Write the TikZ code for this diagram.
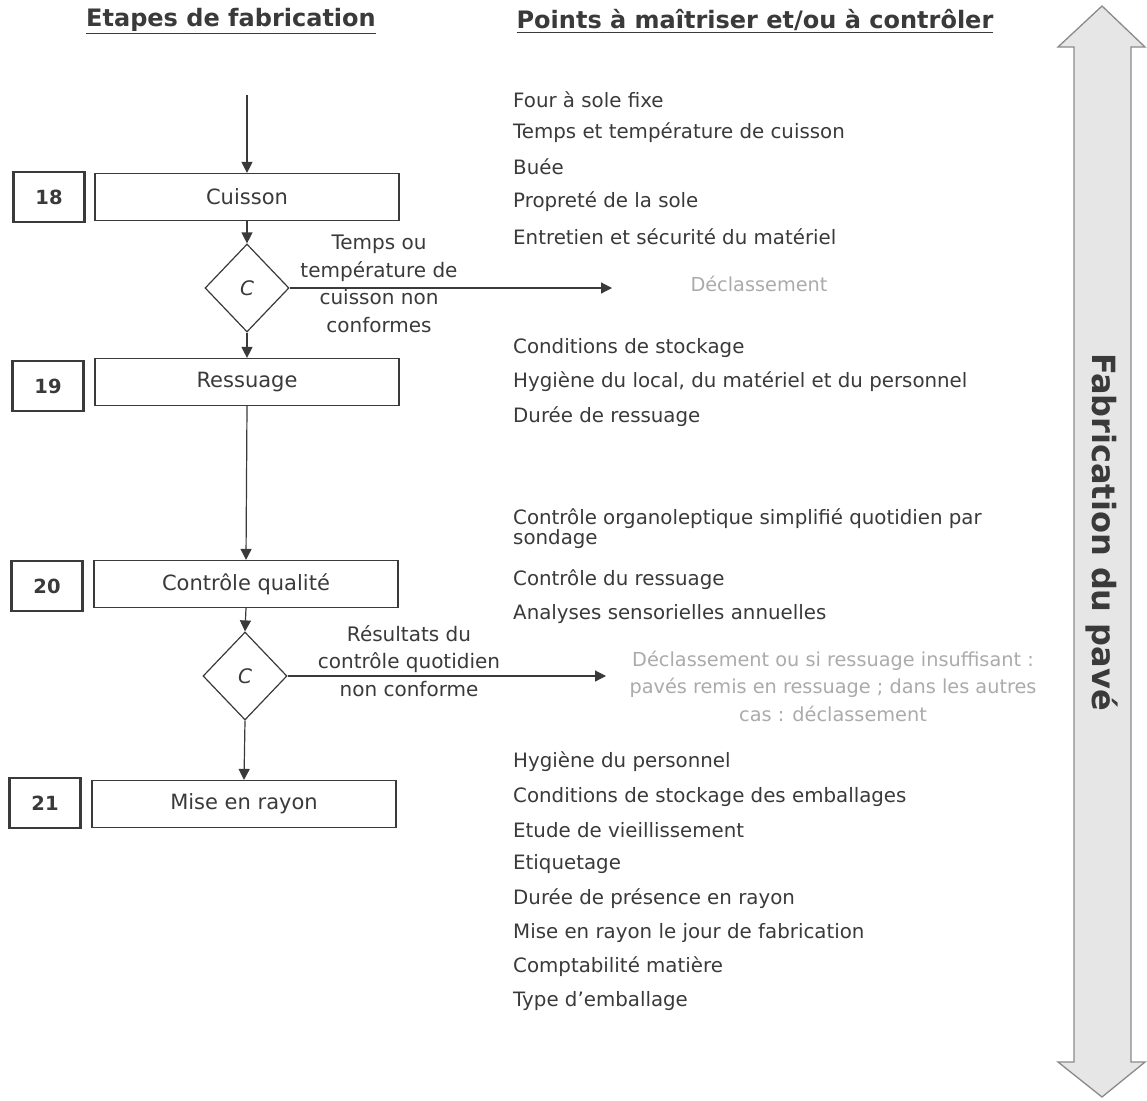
\documentclass[tikz,border=0pt]{standalone}
\usepackage{fontspec}
\setmainfont{DejaVu Sans}
\usetikzlibrary{shapes.geometric,arrows.meta}
\definecolor{ink}{HTML}{3A3A3A}
\definecolor{faint}{HTML}{ABABAB}
\definecolor{band}{HTML}{E6E6E6}
\definecolor{bandline}{HTML}{8A8A8A}
\begin{document}
\begin{tikzpicture}[x=1pt,y=-1pt,
 every node/.style={text=ink, font=\fontsize{19.8}{21}\selectfont},
 numbox/.style={draw=ink, line width=2.4pt, minimum width=71pt, minimum height=50pt, inner sep=0pt, font=\bfseries\fontsize{19.5}{20}\selectfont},
 stepbox/.style={draw=ink, line width=1.2pt, minimum width=304pt, minimum height=47pt, inner sep=0pt, font=\fontsize{21}{22}\selectfont},
 decision/.style={diamond, draw=ink, line width=1.2pt, minimum width=84pt, minimum height=88pt, inner sep=0pt, font=\itshape\fontsize{20}{20}\selectfont},
 flow/.style={draw=ink, line width=1.2pt, -{Triangle[length=11pt,width=11pt]}},
 item/.style={anchor=west, inner sep=0pt},
 lbl/.style={align=center, inner sep=0pt, font=\fontsize{20}{27.5}\selectfont},
 greytext/.style={text=faint, align=center, inner sep=0pt, font=\fontsize{19.3}{27.5}\selectfont},
 header/.style={inner sep=0pt, font=\bfseries\fontsize{24}{26}\selectfont}]
\useasboundingbox (0,0) rectangle (1147,1100);
\fill[white] (0,0) rectangle (1147,1100);

% headers
\node[header] (h1) at (231,21) {\underline{Etapes de fabrication}};
\node[header] (h2) at (755,21) {\underline{Points à maîtriser et/ou à contrôler}};

% big double arrow
\filldraw[fill=band, draw=bandline, line width=1.3pt]
 (1102,6) -- (1145,47) -- (1131,47) -- (1131,1062) -- (1145,1062) -- (1102,1097)
 -- (1058,1062) -- (1074,1062) -- (1074,47) -- (1058,47) -- cycle;
\node[rotate=-90, inner sep=0pt, font=\bfseries\fontsize{32}{34}\selectfont] (fab) at (1102,532) {Fabrication du pavé};

% steps
\node[numbox] (n18) at (49,197) {18};
\node[stepbox] (s18) at (247,197) {Cuisson};
\node[numbox] (n19) at (48,386) {19};
\node[stepbox] (s19) at (247,382) {Ressuage};
\node[numbox] (n20) at (47,586) {20};
\node[stepbox] (s20) at (246,584) {Contrôle qualité};
\node[numbox] (n21) at (45,803) {21};
\node[stepbox] (s21) at (244,804) {Mise en rayon};

\node[decision] (d1) at (247,288) {C};
\node[decision] (d2) at (245,676) {C};

\coordinate (in) at (247,95);
\coordinate (e1) at (612,288);
\coordinate (e2) at (606,676);

\draw[flow] (in) -- (s18.north);
\draw[flow] (s18.south) -- (d1.north);
\draw[flow] (d1.south) -- (s19.north);
\draw[flow] (s19.south) -- (s20.north);
\draw[flow] (s20.south) -- (d2.north);
\draw[flow] (d2.south) -- (s21.north);
\draw[flow] (d1.east) -- (e1);
\draw[flow] (d2.east) -- (e2);

% branch labels
\node[lbl] (l1) at (379,284) {Temps ou\\température de\\cuisson non\\conformes};
\node[lbl] (l2) at (409,661) {Résultats du\\contrôle quotidien\\non conforme};
\node[greytext] (g1) at (759,284) {Déclassement};
\node[greytext] (g2) at (833,686) {Déclassement ou si ressuage insuffisant :\\pavés remis en ressuage ; dans les autres\\cas : déclassement};

% points to control
\node[item] (p1) at (513,100) {Four à sole fixe};
\node[item] (p2) at (513,133) {Temps et température de cuisson};
\node[item] (p3) at (513,167) {Buée};
\node[item] (p4) at (513,202) {Propreté de la sole};
\node[item] (p5) at (513,237) {Entretien et sécurité du matériel};
\node[item] (p6) at (513,348) {Conditions de stockage};
\node[item] (p7) at (513,382) {Hygiène du local, du matériel et du personnel};
\node[item] (p8) at (513,417) {Durée de ressuage};
\node[item, align=left, font=\fontsize{19.8}{16.5}\selectfont] (p9) at (513,529) {Contrôle organoleptique simplifié quotidien par\\sondage};
\node[item] (p10) at (513,580) {Contrôle du ressuage};
\node[item] (p11) at (513,614) {Analyses sensorielles annuelles};
\node[item] (p12) at (513,762) {Hygiène du personnel};
\node[item] (p13) at (513,797) {Conditions de stockage des emballages};
\node[item] (p14) at (513,830) {Etude de vieillissement};
\node[item] (p15) at (513,864) {Etiquetage};
\node[item] (p16) at (513,899) {Durée de présence en rayon};
\node[item] (p17) at (513,933) {Mise en rayon le jour de fabrication};
\node[item] (p18) at (513,967) {Comptabilité matière};
\node[item] (p19) at (513,1001) {Type d'emballage};
\end{tikzpicture}
\end{document}
